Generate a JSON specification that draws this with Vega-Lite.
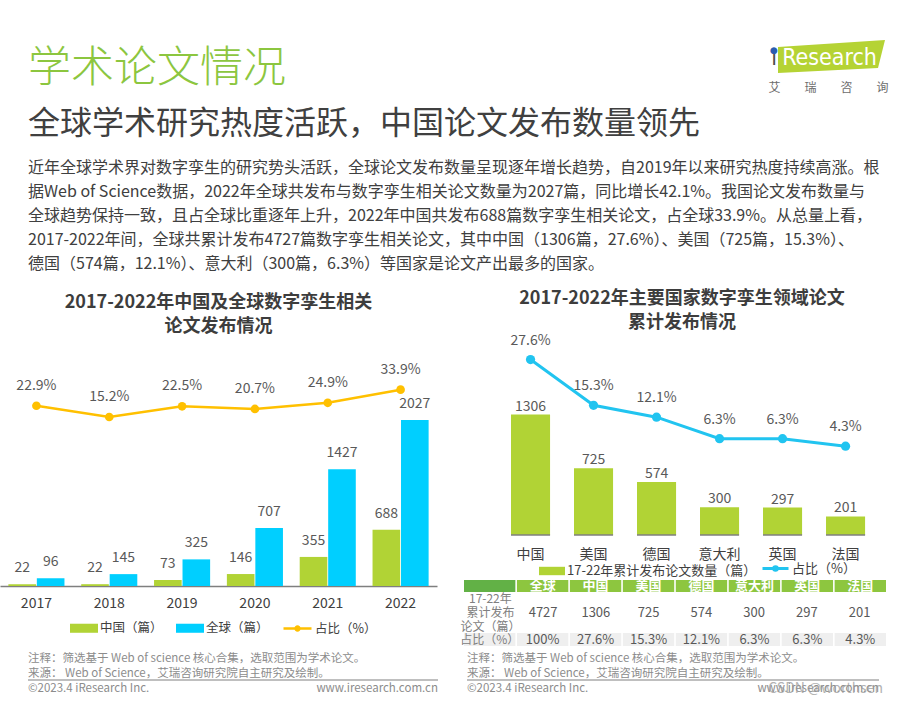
{
  "$schema": "https://vega.github.io/schema/vega-lite/v6.json",
  "background": "white",
  "padding": {"left": 0, "top": 40, "right": 0, "bottom": 0},
  "config": {
    "font": "Noto Sans CJK SC",
    "view": {"stroke": null},
    "text": {"font": "Noto Sans CJK SC"},
    "axis": {"labelFont": "Noto Sans CJK SC"},
    "legend": {"labelFont": "Noto Sans CJK SC"},
    "title": {"font": "Noto Sans CJK SC", "subtitleFont": "Noto Sans CJK SC"}
  },
  "datasets": {
    "lbars": [
      {"year": "2017", "series": "中国（篇）", "value": 22},
      {"year": "2017", "series": "全球（篇）", "value": 96},
      {"year": "2018", "series": "中国（篇）", "value": 22},
      {"year": "2018", "series": "全球（篇）", "value": 145},
      {"year": "2019", "series": "中国（篇）", "value": 73},
      {"year": "2019", "series": "全球（篇）", "value": 325},
      {"year": "2020", "series": "中国（篇）", "value": 146},
      {"year": "2020", "series": "全球（篇）", "value": 707},
      {"year": "2021", "series": "中国（篇）", "value": 355},
      {"year": "2021", "series": "全球（篇）", "value": 1427},
      {"year": "2022", "series": "中国（篇）", "value": 688},
      {"year": "2022", "series": "全球（篇）", "value": 2027}
    ],
    "lpct": [
      {"year": "2017", "pct": 22.9},
      {"year": "2018", "pct": 15.2},
      {"year": "2019", "pct": 22.5},
      {"year": "2020", "pct": 20.7},
      {"year": "2021", "pct": 24.9},
      {"year": "2022", "pct": 33.9}
    ],
    "ctry": [
      {"country": "中国", "cnt": 1306, "pct": 27.6},
      {"country": "美国", "cnt": 725, "pct": 15.3},
      {"country": "德国", "cnt": 574, "pct": 12.1},
      {"country": "意大利", "cnt": 300, "pct": 6.3},
      {"country": "英国", "cnt": 297, "pct": 6.3},
      {"country": "法国", "cnt": 201, "pct": 4.3}
    ],
    "tbl": [
      {"col": "项目", "hdr": "", "cnt": "17-22年\n累计发布\n论文（篇）", "share": "占比（%）"},
      {"col": "全球", "hdr": "全球", "cnt": "4727", "share": "100%"},
      {"col": "中国", "hdr": "中国", "cnt": "1306", "share": "27.6%"},
      {"col": "美国", "hdr": "美国", "cnt": "725", "share": "15.3%"},
      {"col": "德国", "hdr": "德国", "cnt": "574", "share": "12.1%"},
      {"col": "意大利", "hdr": "意大利", "cnt": "300", "share": "6.3%"},
      {"col": "英国", "hdr": "英国", "cnt": "297", "share": "6.3%"},
      {"col": "法国", "hdr": "法国", "cnt": "201", "share": "4.3%"}
    ],
    "foot": [
      {"line": 1, "text": "注释：筛选基于 Web of science 核心合集，选取范围为学术论文。", "side": "L"},
      {"line": 2, "text": "来源： Web of Science，艾瑞咨询研究院自主研究及绘制。", "side": "L"},
      {"line": 3, "text": "©2023.4 iResearch Inc.", "side": "L"},
      {"line": 3, "text": "www.iresearch.com.cn", "side": "R"},
      {"line": 3, "text": "CSDN @worthsen", "side": "W"}
    ]
  },
  "spacing": 6,
  "resolve": {"scale": {"fill": "independent", "stroke": "independent", "color": "independent"}, "legend": {"fill": "independent", "stroke": "independent", "color": "independent"}},
  "vconcat": [
    {
      "spacing": 28,
      "hconcat": [
        {
          "width": 740,
          "height": 9,
          "title": {
            "text": "学术论文情况",
            "subtitle": "全球学术研究热度活跃，中国论文发布数量领先",
            "anchor": "start",
            "frame": "group",
            "dx": 28,
            "fontSize": 43,
            "fontWeight": 300,
            "color": "#8cc63f",
            "subtitleFontSize": 32,
            "subtitleFontWeight": "normal",
            "subtitleColor": "#404040",
            "subtitlePadding": 18,
            "offset": 4
          },
          "data": {"values": []},
          "mark": "rule",
          "encoding": {}
        },
        {
          "width": 115,
          "height": 1,
          "data": {"values": [{"brand": "Research", "stem": "ı", "dot": "●", "cn": "艾　　瑞　　咨　　询"}]},
          "layer": [
            {
              "mark": {"type": "point", "shape": "M-0.878,-1.696L0.983,-1.817L0.861,-1.33L-0.878,-1.243Z", "filled": true, "opacity": 1, "color": "#b5d334", "size": 13225},
              "encoding": {}
            },
            {
              "mark": {"type": "text", "font": "DejaVu Sans Condensed", "fontSize": 23, "color": "white", "align": "center", "baseline": "middle", "dx": 1, "dy": -86.5},
              "encoding": {"text": {"field": "brand"}}
            },
            {
              "mark": {"type": "text", "font": "DejaVu Sans Condensed", "fontSize": 23, "color": "#4d4d4d", "align": "center", "baseline": "middle", "dx": -54.5, "dy": -86.5},
              "encoding": {"text": {"field": "stem"}}
            },
            {
              "mark": {"type": "text", "font": "DejaVu Sans", "fontSize": 9, "color": "#2a5db0", "align": "center", "baseline": "middle", "dx": -54.5, "dy": -95},
              "encoding": {"text": {"field": "dot"}}
            },
            {
              "mark": {"type": "text", "fontSize": 12, "color": "#6d6d6d", "align": "center", "baseline": "middle", "dx": 0, "dy": -56.5},
              "encoding": {"text": {"field": "cn"}}
            }
          ]
        }
      ]
    },
    {
      "title": {
        "text": [
          "近年全球学术界对数字孪生的研究势头活跃，全球论文发布数量呈现逐年增长趋势，自2019年以来研究热度持续高涨。根",
          "据Web of Science数据，2022年全球共发布与数字孪生相关论文数量为2027篇，同比增长42.1%。我国论文发布数量与",
          "全球趋势保持一致，且占全球比重逐年上升，2022年中国共发布688篇数字孪生相关论文，占全球33.9%。从总量上看，",
          "2017-2022年间，全球共累计发布4727篇数字孪生相关论文，其中中国（1306篇，27.6%）、美国（725篇，15.3%）、",
          "德国（574篇，12.1%）、意大利（300篇，6.3%）等国家是论文产出最多的国家。"
        ],
        "anchor": "start",
        "frame": "group",
        "dx": 28,
        "fontSize": 16,
        "fontWeight": "normal",
        "color": "#404040",
        "lineHeight": 24,
        "offset": 18
      },
      "spacing": 23,
      "resolve": {"scale": {"fill": "independent", "stroke": "independent", "color": "independent"}, "legend": {"fill": "independent", "stroke": "independent", "color": "independent"}},
      "hconcat": [
        {
          "width": 437,
          "height": 248,
          "title": {
            "text": ["2017-2022年中国及全球数字孪生相关", "论文发布情况"],
            "fontSize": 18,
            "fontWeight": "bold",
            "color": "#3d3d3d",
            "lineHeight": 24,
            "anchor": "middle",
            "frame": "group",
            "offset": 2
          },
          "resolve": {"scale": {"y": "independent"}},
          "layer": [
            {
              "data": {"name": "lbars"},
              "mark": {"type": "bar"},
              "encoding": {
                "x": {"field": "year", "type": "ordinal", "scale": {"paddingInner": 0.23, "paddingOuter": 0.115}, "axis": {"title": null, "labelAngle": 0, "ticks": false, "grid": false, "domainColor": "#7f7f7f", "domainWidth": 1.5, "labelFontSize": 14, "labelColor": "#404040", "labelPadding": 10}},
                "xOffset": {"field": "series", "type": "nominal", "sort": ["中国（篇）", "全球（篇）"], "scale": {"paddingInner": 0.03, "paddingOuter": 0}},
                "y": {"field": "value", "type": "quantitative", "scale": {"domain": [0, 3028], "nice": false}, "axis": null},
                "fill": {"field": "series", "type": "nominal", "scale": {"domain": ["中国（篇）", "全球（篇）"], "range": ["#b1d335", "#00cfff"]}, "legend": {"title": null, "orient": "none", "legendX": 73, "legendY": 279, "direction": "horizontal", "symbolType": "M-1.3,-0.42H1.3V0.42H-1.3Z", "symbolSize": 464, "symbolStrokeWidth": 0, "labelFontSize": 12.5, "labelColor": "#404040", "labelOffset": 5, "labelLimit": 400, "columnPadding": 12}}
              }
            },
            {
              "data": {"name": "lbars"},
              "mark": {"type": "text", "baseline": "middle", "dy": -16, "fontSize": 14, "color": "#595959"},
              "encoding": {
                "x": {"field": "year", "type": "ordinal"},
                "xOffset": {"field": "series", "type": "nominal", "sort": ["中国（篇）", "全球（篇）"]},
                "y": {"field": "value", "type": "quantitative", "scale": {"domain": [0, 3028], "nice": false}, "axis": null},
                "text": {"field": "value"}
              }
            },
            {
              "data": {"name": "lpct"},
              "mark": {"type": "line", "strokeWidth": 2.5},
              "encoding": {
                "x": {"field": "year", "type": "ordinal"},
                "y": {"field": "pct", "type": "quantitative", "scale": {"domain": [-100.6, 69.3], "nice": false, "zero": false}, "axis": null},
                "stroke": {"datum": "占比（%）", "scale": {"range": ["#ffc000"]}, "legend": {"title": null, "orient": "none", "legendX": 285, "legendY": 278, "direction": "horizontal", "symbolType": "M-1.3,0H1.3M0.18,0A0.18,0.18 0 1,1 -0.18,0A0.18,0.18 0 1,1 0.18,0", "symbolSize": 464, "symbolStrokeWidth": 2.5, "labelFontSize": 12.5, "labelColor": "#404040", "labelOffset": 5, "labelLimit": 400}}
              }
            },
            {
              "data": {"name": "lpct"},
              "mark": {"type": "point", "filled": true, "opacity": 1, "size": 75, "color": "#ffc000"},
              "encoding": {
                "x": {"field": "year", "type": "ordinal"},
                "y": {"field": "pct", "type": "quantitative", "scale": {"domain": [-100.6, 69.3], "nice": false, "zero": false}, "axis": null}
              }
            },
            {
              "data": {"name": "lpct"},
              "transform": [{"calculate": "format(datum.pct, '.1f') + '%'", "as": "lbl"}],
              "mark": {"type": "text", "baseline": "middle", "dy": -20, "fontSize": 14, "color": "#595959"},
              "encoding": {
                "x": {"field": "year", "type": "ordinal"},
                "y": {"field": "pct", "type": "quantitative", "scale": {"domain": [-100.6, 69.3], "nice": false, "zero": false}, "axis": null},
                "text": {"field": "lbl"}
              }
            }
          ]
        },
        {
          "spacing": 2,
          "resolve": {"scale": {"fill": "independent", "stroke": "independent", "color": "independent"}, "legend": {"fill": "independent", "stroke": "independent", "color": "independent"}},
          "vconcat": [
            {
              "width": 422,
              "height": 197,
              "title": {
                "text": ["2017-2022年主要国家数字孪生领域论文", "累计发布情况"],
                "fontSize": 18,
                "fontWeight": "bold",
                "color": "#3d3d3d",
                "lineHeight": 24,
                "anchor": "middle",
                "frame": "group",
                "dx": 7,
                "offset": 2
              },
              "data": {"name": "ctry"},
              "resolve": {"scale": {"y": "independent"}},
              "layer": [
                {
                  "mark": {"type": "bar"},
                  "encoding": {
                    "x": {"field": "country", "type": "nominal", "sort": null, "scale": {"paddingInner": 0.38, "paddingOuter": 0.539, "align": 0.692}, "axis": {"title": null, "labelAngle": 0, "ticks": false, "grid": false, "domain": false, "labelFontSize": 14, "labelColor": "#404040", "labelPadding": 12}},
                    "y": {"field": "cnt", "type": "quantitative", "scale": {"domain": [0, 2137], "nice": false}, "axis": null},
                    "fill": {"datum": "17-22年累计发布论文数量（篇）", "scale": {"range": ["#b1d335"]}, "legend": {"title": null, "orient": "none", "legendX": 78, "legendY": 223, "direction": "horizontal", "symbolType": "M-1.3,-0.42H1.3V0.42H-1.3Z", "symbolSize": 400, "symbolStrokeWidth": 0, "labelFontSize": 13, "labelColor": "#404040", "labelOffset": 5, "labelLimit": 400}}
                  }
                },
                {
                  "mark": {"type": "tick", "orient": "horizontal", "bandSize": 63, "thickness": 1.5, "opacity": 1, "color": "#7f7f7f"},
                  "encoding": {
                    "x": {"field": "country", "type": "nominal", "sort": null},
                    "y": {"datum": 0, "type": "quantitative", "scale": {"domain": [0, 2137], "nice": false}, "axis": null}
                  }
                },
                {
                  "mark": {"type": "text", "baseline": "middle", "dy": -8, "fontSize": 14, "color": "#595959"},
                  "encoding": {
                    "x": {"field": "country", "type": "nominal", "sort": null},
                    "y": {"field": "cnt", "type": "quantitative", "scale": {"domain": [0, 2137], "nice": false}, "axis": null},
                    "text": {"field": "cnt"}
                  }
                },
                {
                  "mark": {"type": "line", "strokeWidth": 3},
                  "encoding": {
                    "x": {"field": "country", "type": "nominal", "sort": null},
                    "y": {"field": "pct", "type": "quantitative", "scale": {"domain": [-19.6, 33.4], "nice": false, "zero": false}, "axis": null},
                    "stroke": {"datum": "占比（%）", "scale": {"range": ["#21c4f0"]}, "legend": {"title": null, "orient": "none", "legendX": 300, "legendY": 219, "direction": "horizontal", "symbolType": "M-1.3,0H1.3M0.18,0A0.18,0.18 0 1,1 -0.18,0A0.18,0.18 0 1,1 0.18,0", "symbolSize": 400, "symbolStrokeWidth": 3, "labelFontSize": 13, "labelColor": "#404040", "labelOffset": 5, "labelLimit": 400}}
                  }
                },
                {
                  "mark": {"type": "point", "filled": true, "opacity": 1, "size": 85, "color": "#21c4f0"},
                  "encoding": {
                    "x": {"field": "country", "type": "nominal", "sort": null},
                    "y": {"field": "pct", "type": "quantitative", "scale": {"domain": [-19.6, 33.4], "nice": false, "zero": false}, "axis": null}
                  }
                },
                {
                  "transform": [{"calculate": "format(datum.pct, '.1f') + '%'", "as": "lbl"}],
                  "mark": {"type": "text", "baseline": "middle", "dy": -19, "fontSize": 14, "color": "#595959"},
                  "encoding": {
                    "x": {"field": "country", "type": "nominal", "sort": null},
                    "y": {"field": "pct", "type": "quantitative", "scale": {"domain": [-19.6, 33.4], "nice": false, "zero": false}, "axis": null},
                    "text": {"field": "lbl"}
                  }
                }
              ]
            },
            {
              "spacing": 0,
              "bounds": "flush",
              "vconcat": [
                {
                  "width": 422,
                  "height": 12,
                  "data": {"name": "tbl"},
                  "layer": [
                    {
                      "mark": {"type": "rect"},
                      "encoding": {
                        "x": {"field": "col", "type": "nominal", "scale": {"domain": ["项目", "全球", "中国", "美国", "德国", "意大利", "英国", "法国"], "paddingInner": 0.03, "paddingOuter": 0}, "axis": null},
                        "fill": {"condition": {"test": "datum.col === '项目'", "value": "#62b146"}, "value": "#8dc63f"}
                      }
                    },
                    {
                      "mark": {"type": "text", "color": "white", "fontWeight": "bold", "fontSize": 13, "baseline": "middle"},
                      "encoding": {
                        "x": {"field": "col", "type": "nominal"},
                        "text": {"field": "hdr"}
                      }
                    }
                  ]
                },
                {
                  "width": 422,
                  "height": 41,
                  "data": {"name": "tbl"},
                  "layer": [
                    {
                      "transform": [{"filter": "datum.col !== '项目'"}],
                      "mark": {"type": "text", "fontSize": 13, "baseline": "middle", "color": "#595959"},
                      "encoding": {
                        "x": {"field": "col", "type": "nominal", "scale": {"domain": ["项目", "全球", "中国", "美国", "德国", "意大利", "英国", "法国"], "paddingInner": 0.03, "paddingOuter": 0}, "axis": null},
                        "text": {"field": "cnt"}
                      }
                    },
                    {
                      "transform": [{"filter": "datum.col === '项目'"}],
                      "mark": {"type": "text", "fontSize": 12, "baseline": "middle", "lineBreak": "\n", "lineHeight": 14, "dy": -14, "color": "#808080"},
                      "encoding": {
                        "x": {"field": "col", "type": "nominal"},
                        "text": {"field": "cnt"}
                      }
                    }
                  ]
                },
                {
                  "width": 422,
                  "height": 13,
                  "data": {"name": "tbl"},
                  "layer": [
                    {
                      "mark": {"type": "rect", "color": "#efefef"},
                      "encoding": {
                        "x": {"field": "col", "type": "nominal", "scale": {"domain": ["项目", "全球", "中国", "美国", "德国", "意大利", "英国", "法国"], "paddingInner": 0.03, "paddingOuter": 0}, "axis": null}
                      }
                    },
                    {
                      "transform": [{"filter": "datum.col !== '项目'"}],
                      "mark": {"type": "text", "fontSize": 13, "baseline": "middle", "color": "#595959"},
                      "encoding": {
                        "x": {"field": "col", "type": "nominal"},
                        "text": {"field": "share"}
                      }
                    },
                    {
                      "transform": [{"filter": "datum.col === '项目'"}],
                      "mark": {"type": "text", "fontSize": 12, "baseline": "middle", "color": "#808080"},
                      "encoding": {
                        "x": {"field": "col", "type": "nominal"},
                        "text": {"field": "share"}
                      }
                    }
                  ]
                }
              ]
            }
          ]
        }
      ]
    },
    {
      "spacing": 0,
      "hconcat": [
        {
          "width": 466,
          "height": 30,
          "data": {"name": "foot"},
          "layer": [
            {
              "transform": [{"filter": "datum.side === 'L'"}],
              "mark": {"type": "text", "align": "left", "baseline": "middle", "fontSize": 11.5, "color": "#8c8c8c"},
              "encoding": {
                "x": {"datum": 0, "type": "quantitative", "scale": {"domain": [0, 1], "padding": 28, "nice": false, "zero": false}, "axis": null},
                "y": {"field": "line", "type": "quantitative", "scale": {"domain": [1, 3], "reverse": true, "nice": false, "zero": false}, "axis": null},
                "text": {"field": "text"}
              }
            },
            {
              "transform": [{"filter": "datum.side === 'R'"}],
              "mark": {"type": "text", "align": "right", "baseline": "middle", "fontSize": 11.5, "color": "#8c8c8c"},
              "encoding": {
                "x": {"datum": 1, "type": "quantitative"},
                "y": {"field": "line", "type": "quantitative"},
                "text": {"field": "text"}
              }
            },
            {
              "mark": {"type": "rule", "color": "#bfbfbf", "strokeWidth": 2},
              "encoding": {
                "x": {"datum": 0, "type": "quantitative"},
                "x2": {"datum": 1},
                "y": {"datum": 2.4, "type": "quantitative"}
              }
            }
          ]
        },
        {
          "width": 412,
          "height": 30,
          "data": {"name": "foot"},
          "layer": [
            {
              "transform": [{"filter": "datum.side === 'L'"}],
              "mark": {"type": "text", "align": "left", "baseline": "middle", "fontSize": 11.5, "color": "#8c8c8c"},
              "encoding": {
                "x": {"datum": 0, "type": "quantitative", "scale": {"domain": [0, 1], "nice": false, "zero": false}, "axis": null},
                "y": {"field": "line", "type": "quantitative", "scale": {"domain": [1, 3], "reverse": true, "nice": false, "zero": false}, "axis": null},
                "text": {"field": "text"}
              }
            },
            {
              "transform": [{"filter": "datum.side === 'R'"}],
              "mark": {"type": "text", "align": "right", "baseline": "middle", "fontSize": 11.5, "color": "#8c8c8c"},
              "encoding": {
                "x": {"datum": 1, "type": "quantitative"},
                "y": {"field": "line", "type": "quantitative"},
                "text": {"field": "text"}
              }
            },
            {
              "transform": [{"filter": "datum.side === 'W'"}],
              "mark": {"type": "text", "align": "right", "baseline": "middle", "fontSize": 14, "color": "#9a9a9a", "opacity": 0.75, "dx": 4},
              "encoding": {
                "x": {"datum": 1, "type": "quantitative"},
                "y": {"field": "line", "type": "quantitative"},
                "text": {"field": "text"}
              }
            },
            {
              "mark": {"type": "rule", "color": "#bfbfbf", "strokeWidth": 2},
              "encoding": {
                "x": {"datum": 0, "type": "quantitative"},
                "x2": {"datum": 1},
                "y": {"datum": 2.4, "type": "quantitative"}
              }
            }
          ]
        }
      ]
    }
  ]
}
